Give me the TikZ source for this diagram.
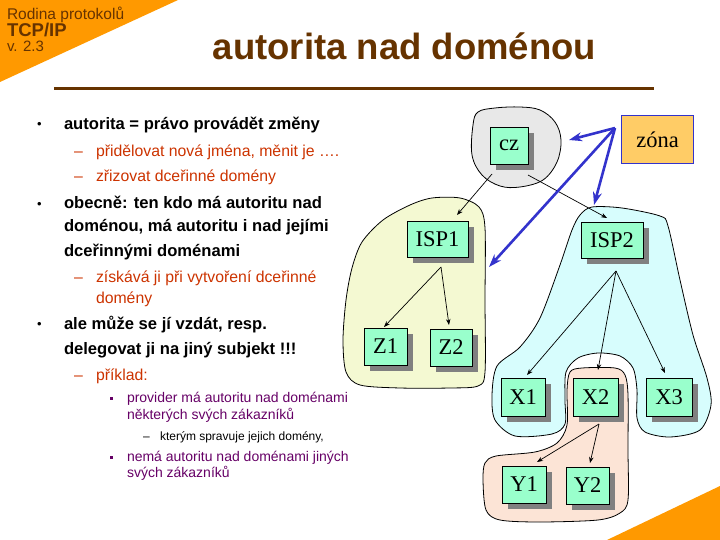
\documentclass[tikz,border=0pt]{standalone}
\usepackage{fontspec}
\setmainfont{Liberation Sans}
\newfontfamily\tnr{Liberation Serif}
\usetikzlibrary{shadows,arrows.meta,calc}
\definecolor{orng}{HTML}{FF9900}
\definecolor{brwn}{HTML}{663300}
\definecolor{subred}{HTML}{CC3300}
\definecolor{purp}{HTML}{660066}
\definecolor{blu}{HTML}{3333CC}
\definecolor{boxfill}{HTML}{99FFCC}
\definecolor{zonafill}{HTML}{FFCC66}
\definecolor{shgray}{HTML}{808080}
\definecolor{blobgray}{HTML}{E8E8E8}
\definecolor{blobyel}{HTML}{F4F9D2}
\definecolor{blobcyan}{HTML}{D7FDFD}
\definecolor{blobpeach}{HTML}{FCE4D6}
\newcommand\myfs[1]{\fontsize{#1}{#1}\selectfont}
\begin{document}
\begin{tikzpicture}[x=1pt,y=-1pt,
  txt/.style={anchor=base west,inner sep=0pt,outer sep=0pt},
  lvlone/.style={txt,font=\myfs{16.6}\bfseries,text=black},
  bul/.style={txt,font=\myfs{13},text=black},
  lvltwo/.style={txt,font=\myfs{15.8},text=subred},
  lvlthree/.style={txt,font=\myfs{14},text=purp},
  lvlfour/.style={txt,font=\myfs{12},text=black},
  dbox/.style={draw=black,line width=0.8pt,fill=boxfill,inner sep=0pt,
    font=\tnr\myfs{22.5},
    drop shadow={shadow xshift=6pt,shadow yshift=-6pt,fill=shgray,opacity=1}},
  blob/.style={draw=black,line width=0.8pt},
  tree/.style={draw=black,line width=0.7pt,-{Stealth[length=6pt,width=4.5pt]}},
  zarrow/.style={draw=blu,line width=2.6pt,-{Stealth[length=13pt,width=9pt]}}
]
\useasboundingbox (0,0) rectangle (720,540);
% corner triangles
\fill[orng] (0,0) -- (178,0) -- (0,82) -- cycle;
\fill[orng] (607,540) -- (720,486) -- (720,540) -- cycle;
% header
\node[txt,font=\myfs{15.5},text=brwn] (h1) at (7,20) {Rodina protokolů};
\node[txt,font=\myfs{18.5}\bfseries,text=brwn] (h2) at (7,36.5) {TCP/IP};
\node[txt,font=\myfs{15},text=brwn] (h3) at (7,52) {v. 2.3};
\node[anchor=base,inner sep=0pt,font=\myfs{36.5}\bfseries,text=brwn] (title) at (404.5,60) {autorita nad doménou};
\draw[brwn,line width=3pt] (54,89) -- (654,89);
% text
\node[bul] (b1) at (37,129) {•};
\node[lvlone] (t1) at (64,130) {autorita = právo provádět změny};
\node[lvltwo] (d1) at (74,157) {–};
\node[lvltwo] (t2) at (96,157) {přidělovat nová jména, měnit je ….};
\node[lvltwo] (d2) at (74,182) {–};
\node[lvltwo] (t3) at (96,182) {zřizovat dceřinné domény};
\node[bul] (b2) at (37,208) {•};
\node[lvlone] (t4) at (64,209) {obecně: ten kdo má autoritu nad};
\node[lvlone] (t5) at (64,232) {doménou, má autoritu i nad jejími};
\node[lvlone] (t6) at (64,256) {dceřinnými doménami};
\node[lvltwo] (d3) at (74,282) {–};
\node[lvltwo] (t7) at (96,282) {získává ji při vytvoření dceřinné};
\node[lvltwo] (t8) at (96,303) {domény};
\node[bul] (b3) at (37,328) {•};
\node[lvlone] (t9) at (64,329) {ale může se jí vzdát, resp.};
\node[lvlone] (t10) at (64,354) {delegovat ji na jiný subjekt !!!};
\node[lvltwo] (d4) at (74,380) {–};
\node[lvltwo] (t11) at (96,380) {příklad:};
\node[txt,fill=purp,minimum width=3pt,minimum height=3.5pt] (s1) at (110,398.5) {};
\node[lvlthree] (t12) at (127,402) {provider má autoritu nad doménami};
\node[lvlthree] (t13) at (127,419) {některých svých zákazníků};
\node[lvlfour] (d5) at (143,440) {–};
\node[lvlfour] (t14) at (160,440) {kterým spravuje jejich domény,};
\node[txt,fill=purp,minimum width=3pt,minimum height=3.5pt] (s2) at (110,457.5) {};
\node[lvlthree] (t15) at (127,461) {nemá autoritu nad doménami jiných};
\node[lvlthree] (t16) at (127,477) {svých zákazníků};
% blobs
\filldraw[blob,fill=blobgray] plot[smooth cycle,tension=0.6] coordinates {
 (478,112) (495,108) (520,107) (540,110) (555,122) (561,140) (557,162)
 (543,180) (520,187) (500,186) (482,175) (472,155) (473,125)};
\filldraw[blob,fill=blobyel] plot[smooth cycle,tension=0.5] coordinates {
 (362,242) (383,220) (410,205) (432,198) (460,198) (479,207) (485,228)
 (485,300) (485,372) (478,386) (450,388) (400,388) (360,385) (346,372)
 (343,340) (346,300) (352,268)};
\filldraw[blob,fill=blobcyan] plot[smooth cycle,tension=0.5] coordinates {
 (580,215) (592,207) (622,208) (660,216) (668,226) (680,280) (693,335)
 (707,378) (711,405) (700,430) (670,437) (645,432) (637,418) (637,390)
 (633,368) (620,356) (598,353) (578,358) (566,372) (565,400) (565,424)
 (552,434) (515,436) (495,420) (492,395) (497,366) (520,347) (540,318)
 (560,265) (572,230)};
\filldraw[blob,fill=blobpeach] plot[smooth cycle,tension=0.5] coordinates {
 (570,372) (582,368) (615,368) (625,375) (628,395) (628,450) (628,500)
 (620,513) (598,520) (540,522) (500,520) (486,510) (483,480) (485,463)
 (496,456) (535,452) (557,443) (567,425) (567,390)};
% boxes
\node[dbox,minimum width=38pt,minimum height=37pt] (cz) at (509,145.5) {cz};
\node[draw=blu,line width=1pt,fill=zonafill,inner sep=0pt,minimum width=72pt,minimum height=48pt,font=\tnr\myfs{22.5}] (zona) at (657.5,140) {zóna};
\node[dbox,minimum width=61pt,minimum height=36pt] (isp1) at (437.5,239) {ISP1};
\node[dbox,minimum width=62pt,minimum height=36pt] (isp2) at (612,240) {ISP2};
\node[dbox,minimum width=43pt,minimum height=37pt] (z1) at (385.5,346.5) {Z1};
\node[dbox,minimum width=42pt,minimum height=37pt] (z2) at (451,347.5) {Z2};
\node[dbox,minimum width=44pt,minimum height=38pt] (x1) at (523,397) {X1};
\node[dbox,minimum width=45pt,minimum height=38pt] (x2) at (595.5,397) {X2};
\node[dbox,minimum width=46pt,minimum height=38pt] (x3) at (669,397) {X3};
\node[dbox,minimum width=44pt,minimum height=37pt] (y1) at (524,484.5) {Y1};
\node[dbox,minimum width=43pt,minimum height=37pt] (y2) at (587.5,485.5) {Y2};
% tree connectors
\coordinate (czL) at (492,174);
\coordinate (czR) at (528,175);
\coordinate (isp1in) at (457,215);
\coordinate (isp2in) at (607,218);
\coordinate (isp1out) at (441,267);
\coordinate (z1in) at (384,327);
\coordinate (z2in) at (449,325);
\coordinate (isp2out) at (616,271);
\coordinate (x1in) at (527,375);
\coordinate (x2in) at (598,370);
\coordinate (x3in) at (665,373);
\coordinate (x2out) at (599,424);
\coordinate (y1in) at (537,462);
\coordinate (y2in) at (590,463);
\draw[tree] (czL) -- (isp1in);
\draw[tree] (czR) -- (isp2in);
\draw[tree] (isp1out) -- (z1in);
\draw[tree] (isp1out) -- (z2in);
\draw[tree] (isp2out) -- (x1in);
\draw[tree] (isp2out) -- (x2in);
\draw[tree] (isp2out) -- (x3in);
\draw[tree] (x2out) -- (y1in);
\draw[tree] (x2out) -- (y2in);
% zone arrows
\coordinate (zsrc) at (615,128);
\coordinate (zcz) at (569,140);
\coordinate (zisp2) at (594,205);
\coordinate (zisp1) at (489,267);
\draw[zarrow] (zsrc) -- (zcz);
\draw[zarrow] (zsrc) -- (zisp2);
\draw[zarrow] (zsrc) -- (zisp1);
\end{tikzpicture}
\end{document}
